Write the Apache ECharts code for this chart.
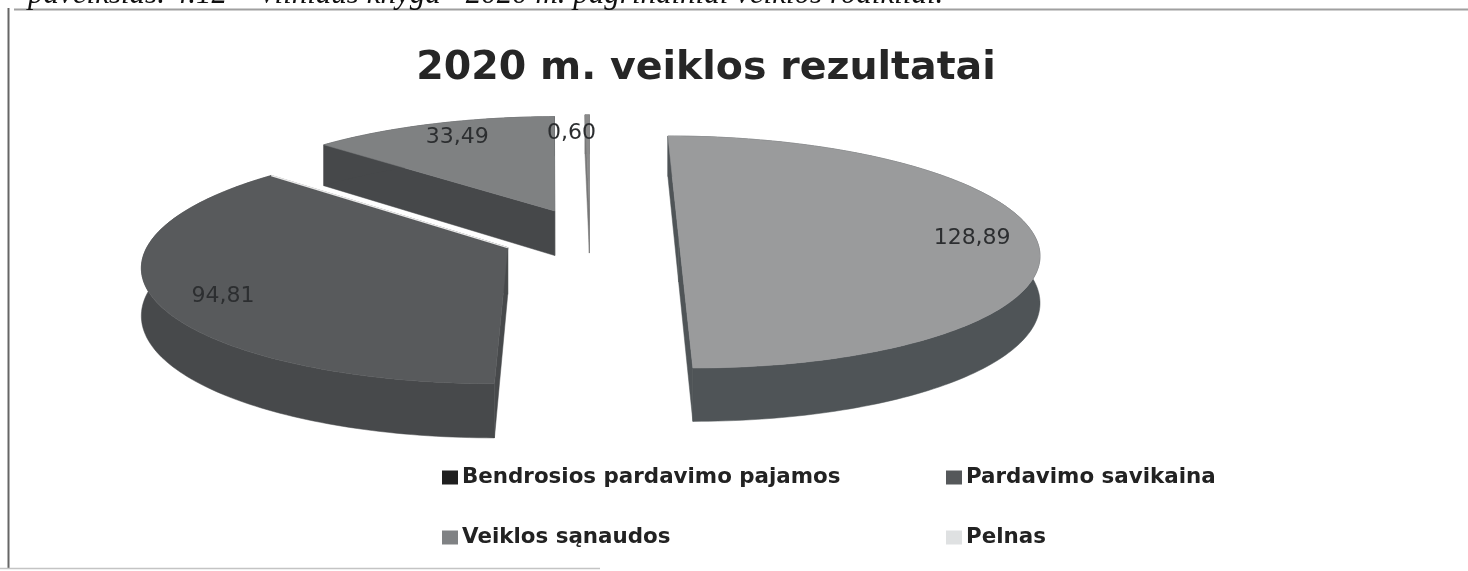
<!DOCTYPE html>
<html>
<head>
<meta charset="utf-8">
<style>html,body{margin:0;padding:0;background:#fff}#c{width:1468px;height:571px;filter:blur(0.45px)}</style>
<script src="https://cdn.jsdelivr.net/npm/echarts@6/dist/echarts.min.js"></script>
</head>
<body>
<div id="c"></div>
<script>
// ---- data ----
const categories = ['Bendrosios pardavimo pajamos', 'Pardavimo savikaina', 'Veiklos sąnaudos', 'Pelnas'];
const values = [128.89, 94.81, 33.49, 0.60];
const valueLabels = ['128,89', '94,81', '33,49', '0,60'];
const titleText = '2020 m. veiklos rezultatai';
const captionText = 'paveikslas. 4.12 – Vilniaus knyga“ 2020 m. pagrindiniai veiklos rodikliai.';

// ---- styles ----
const topColors = ['#9a9b9c', '#585a5c', '#7f8182', '#8a8a8a'];
const wallColors = ['#4f5457', '#47494b', '#46484a', '#777777'];
const legendColors = ['#1f1f1f', '#55585a', '#808284', '#dfe1e2'];
const labelNudgeX = [-2, 7, 6, -16];
const labelNudgeY = [2, 8, 0, 4];
const seriesOrder = [4, 2, 3, 5];

// ---- projection of the tilted pie (3D exploded look) ----
const SCENE = { vx: 590, vy: 236, rx: 356, ry: 113.8, persp: 0.138, depth: 46, explode: 0.249, labelR: 0.83 };
const total = values.reduce((a, b) => a + b, 0);
const TAU = Math.PI * 2;
function project(U, V, h) {
  const w = 1 / (1 - SCENE.persp * V);
  return [SCENE.vx + SCENE.rx * U * w, SCENE.vy + (SCENE.ry * V + (h || 0)) * w];
}
function ground(t, r, c) { return [c[0] + r * Math.sin(t), c[1] - r * Math.cos(t)]; }

function sliceRender(index, cum) {
  return function (params, api) {
    const v = api.value(0);
    const a0 = cum / total * TAU, a1 = (cum + v) / total * TAU, mid = (a0 + a1) / 2;
    const c = [SCENE.explode * Math.sin(mid), -SCENE.explode * Math.cos(mid)];
    const steps = Math.max(2, Math.ceil((a1 - a0) / 0.02));
    const arc = h => { const o = []; for (let i = 0; i <= steps; i++) { const g = ground(a0 + (a1 - a0) * i / steps, 1, c); o.push(project(g[0], g[1], h)); } return o; };
    const top = arc(0), low = arc(SCENE.depth);
    const apexT = project(c[0], c[1], 0), apexB = project(c[0], c[1], SCENE.depth);
    const shape = (pts, fill) => ({ type: 'polygon', shape: { points: pts }, style: { fill: fill, stroke: fill, lineWidth: 0.5 } });
    const children = [];
    children.push(shape([apexT, top[0], low[0], apexB], wallColors[index]));
    children.push(shape([apexT, top[steps], low[steps], apexB], wallColors[index]));
    children.push(shape(top.concat(low.slice().reverse()), wallColors[index]));
    children.push(shape([apexT].concat(top), topColors[index]));
    if (index === 1) {
      children.push({ type: 'polyline', shape: { points: [apexT, top[steps]] }, style: { stroke: '#e8e8e8', fill: null, lineWidth: 1.5 } });
    }
    const lg = ground(mid, SCENE.labelR, c), lp = project(lg[0], lg[1], 0);
    children.push({ type: 'text', z2: 10, style: { x: lp[0] + labelNudgeX[index], y: lp[1] + labelNudgeY[index], text: valueLabels[index], fill: '#2c2e30', font: '22px "DejaVu Sans"', textAlign: 'center', textVerticalAlign: 'middle' } });
    return { type: 'group', children: children };
  };
}

let running = 0;
const series = categories.map((name, i) => {
  const s = { type: 'custom', name: name, coordinateSystem: 'none', data: [[values[i]]], renderItem: sliceRender(i, running), z: seriesOrder[i], animation: false, silent: true, itemStyle: { color: legendColors[i] } };
  running += values[i];
  return s;
});
const legendBase = { orient: 'vertical', itemGap: 39, itemWidth: 16, itemHeight: 14, icon: 'rect', selectedMode: false, top: 462, textStyle: { fontFamily: 'DejaVu Sans', fontWeight: 'bold', fontSize: 21.4, color: '#222', padding: [0, 0, 0, -1] } };
const legendItem = i => ({ name: categories[i], itemStyle: { color: legendColors[i] } });

const chart = echarts.init(document.getElementById('c'), null, { renderer: 'canvas' });
chart.setOption({
  animation: false,
  backgroundColor: '#ffffff',
  title: { text: titleText, left: 701, textAlign: 'center', top: 44, textStyle: { fontFamily: 'DejaVu Sans', fontWeight: 'bold', fontSize: 39.5, color: '#262626' } },
  legend: [
    Object.assign({}, legendBase, { left: 437, data: [legendItem(0), legendItem(2)] }),
    Object.assign({}, legendBase, { left: 941, data: [legendItem(1), legendItem(3)] })
  ],
  graphic: [
    { type: 'text', z: 20, style: { x: 28, y: -21, text: captionText, fill: '#111', font: 'italic 31px "Liberation Serif"' } },
    { type: 'line', z: 19, shape: { x1: 14, y1: 9.5, x2: 1468, y2: 9.5 }, style: { stroke: '#a0a0a0', lineWidth: 2 } },
    { type: 'line', z: 19, shape: { x1: 8.5, y1: 8, x2: 8.5, y2: 568 }, style: { stroke: '#666666', lineWidth: 2 } },
    { type: 'line', z: 19, shape: { x1: 0, y1: 568.5, x2: 600, y2: 568.5 }, style: { stroke: '#c4c4c4', lineWidth: 1.5 } }
  ],
  series: series
});
</script>
</body>
</html>
